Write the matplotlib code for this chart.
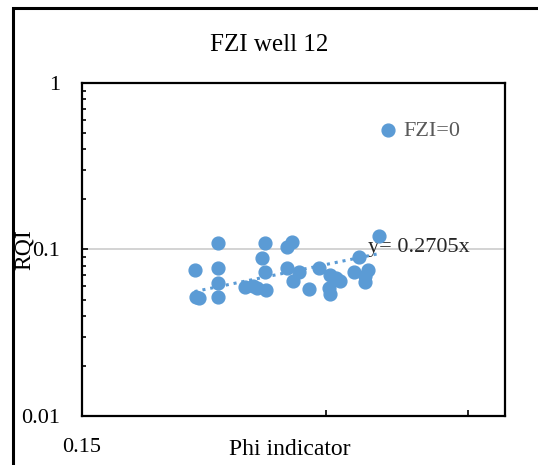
import numpy as np
import matplotlib
matplotlib.use('Agg')
import matplotlib.pyplot as plt
from matplotlib.patches import Rectangle
from matplotlib.ticker import FixedLocator, LogLocator, NullFormatter

plt.rcParams['font.family'] = ['Liberation Serif', 'DejaVu Serif']

# Data (Phi indicator vs RQI)
phi = [0.2067, 0.2073, 0.2091,
       0.2211, 0.2211, 0.2211, 0.2211,
       0.2385, 0.2439, 0.2467,
       0.2524, 0.2503, 0.2524, 0.2531,
       0.2692, 0.2730, 0.2692, 0.2738, 0.2784,
       0.2945, 0.2863,
       0.3038, 0.3030, 0.3038,
       0.3090, 0.3125,
       0.3296, 0.3250, 0.3352, 0.3390, 0.3352,
       0.3497]
rqi = [0.0753, 0.0519, 0.0512,
       0.1094, 0.0774, 0.0629, 0.0519,
       0.0596, 0.0604, 0.0587,
       0.1094, 0.0889, 0.0733, 0.0571,
       0.1035, 0.1109, 0.0774, 0.0647, 0.0733,
       0.0774, 0.0579,
       0.0703, 0.0587, 0.0541,
       0.0674, 0.0647,
       0.0901, 0.0733, 0.0693, 0.0753, 0.0638,
       0.1205]
slope = 0.2705
series_name = 'FZI=0'
x_ticks = [0.15, 0.3, 0.45]
x_tick_labels = ['0.15', '', '']
y_ticks = [0.01, 0.1, 1]
y_tick_labels = ['0.01', '0.1', '1']

blue = '#5b9bd5'

fig = plt.figure(figsize=(5.38, 4.65), dpi=100)
ax = fig.add_axes([82 / 538, 1 - 416 / 465, 423 / 538, 333 / 465])

ax.scatter(phi, rqi, s=85, color=blue, zorder=3, label=series_name)

# linear trendline through origin
xt = np.array([min(phi), max(phi)])
ax.plot(xt, slope * xt, linestyle=(0, (1, 1.6)), color=blue, linewidth=2.2, zorder=2)

ax.set_xscale('log')
ax.set_yscale('log')
ax.set_xlim(0.15, 0.5)
ax.set_ylim(0.01, 1)

ax.xaxis.set_major_locator(FixedLocator(x_ticks))
ax.set_xticklabels(x_tick_labels)
ax.xaxis.set_minor_locator(FixedLocator([]))
ax.yaxis.set_major_locator(FixedLocator(y_ticks))
ax.set_yticklabels(y_tick_labels)
ax.yaxis.set_minor_locator(LogLocator(base=10, subs=np.arange(2, 10)))
ax.yaxis.set_minor_formatter(NullFormatter())

ax.tick_params(axis='both', which='major', direction='in', length=4, width=1.2,
               labelsize=16, colors='black')
ax.tick_params(axis='y', which='minor', direction='in', length=3, width=1.2)
ax.tick_params(axis='y', which='major', pad=16)
ax.tick_params(axis='x', which='major', pad=16)

for sp in ax.spines.values():
    sp.set_linewidth(1.6)
    sp.set_color('black')

ax.axhline(0.1, color='#d0d0d0', linewidth=1.3, zorder=1)

ax.set_xlabel('Phi indicator', fontsize=17)
ax.set_ylabel('RQI', fontsize=17)
ax.yaxis.set_label_coords(-0.112, 0.5)
ax.xaxis.set_label_coords(0.49, -0.07)

ax.text(0.676, 0.505, 'y= 0.2705x', transform=ax.transAxes, fontsize=16,
        color='#262626', va='center', ha='left', zorder=1)

leg = ax.legend(loc='center left', bbox_to_anchor=(0.65, 0.856), frameon=False,
                fontsize=16, handletextpad=-0.3, markerscale=1.0,
                borderaxespad=0, labelcolor='#595959')

fig.text(0.5, 1 - 45 / 465, 'FZI well 12', ha='center', va='center', fontsize=18)

fig.patches.append(Rectangle((13 / 538, -0.05), 1.0, 1.05 - 8 / 465,
                             transform=fig.transFigure, fill=False,
                             edgecolor='black', linewidth=2.2))

fig.savefig('out.png', dpi=100)
